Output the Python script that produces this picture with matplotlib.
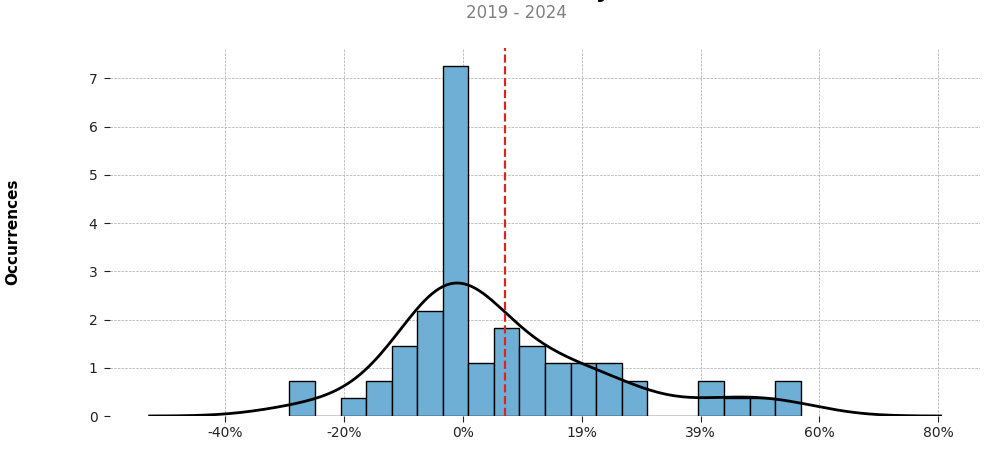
import numpy as np
import matplotlib
matplotlib.use("Agg")
import matplotlib.pyplot as plt
from matplotlib.ticker import FixedLocator, FixedFormatter

# ---- data ----
bin_start = -29.15          # % (left edge of first bin)
bin_width = 4.30            # %
counts = [2, 0, 1, 2, 4, 6, 20, 3, 5, 4, 3, 3, 3, 2, 0, 0, 2, 1, 1, 2]
mean_return = 7.08          # %
xtick_values = [-40, -20, 0, 20, 40, 60, 80]
xtick_labels = ["-40%", "-20%", "0%", "19%", "39%", "60%", "80%"]
ytick_values = [0, 1, 2, 3, 4, 5, 6, 7]
title = "Distribution of Monthly Returns"
subtitle = "2019 - 2024"
ylabel = "Occurrences"

counts = np.array(counts, dtype=float)
edges = bin_start + bin_width * np.arange(len(counts) + 1)
centers = (edges[:-1] + edges[1:]) / 2
n = counts.sum()
# density with x measured in fractions (as in the source chart)
heights = counts / (n * bin_width / 100.0)

# Gaussian KDE (Scott's rule) on the binned data
mu = np.sum(counts * centers) / n
sd = np.sqrt(np.sum(counts * (centers - mu) ** 2) / (n - 1))
bw = sd * n ** (-1 / 5)
grid = np.linspace(edges[0] - 3 * bw, edges[-1] + 3 * bw, 200)
kde = np.zeros_like(grid)
for c, w in zip(centers, counts):
    kde += w * np.exp(-0.5 * ((grid - c) / bw) ** 2)
kde /= (n * bw * np.sqrt(2 * np.pi))
kde *= 100.0  # per-fraction density

fig = plt.figure(figsize=(9.94, 4.55), dpi=100)
ax = fig.add_axes([0.1107, 0.0857, 0.8753, 0.8088])

ax.bar(edges[:-1], heights, width=bin_width, align="edge",
       color="#6fafd5", edgecolor="black", linewidth=1.0, zorder=2)
ax.plot(grid, kde, color="black", linewidth=2.0, zorder=3)
ax.axvline(mean_return, color="#d62728", linestyle="--", linewidth=1.6, zorder=4)

ax.set_ylim(0, heights.max() * 1.05)
ax.margins(x=0.05)

ax.xaxis.set_major_locator(FixedLocator(xtick_values))
ax.xaxis.set_major_formatter(FixedFormatter(xtick_labels))
ax.set_yticks(ytick_values)
ax.tick_params(axis="both", labelsize=10, colors="#222222", length=4)
ax.tick_params(axis="y", pad=5)

for s in ax.spines.values():
    s.set_visible(False)
ax.grid(True, linestyle="--", linewidth=0.5, color="#aaaaaa", zorder=0)
ax.set_axisbelow(True)

ax.set_ylabel(ylabel, fontsize=11, fontweight="bold")
ax.yaxis.set_label_coords(-0.1035, 0.5)

fig.text(0.52, 1 + 2 / 455, title, ha="center", va="baseline",
         fontsize=16, fontweight="bold", color="black")
fig.text(0.5195, 1 - 18 / 455, subtitle, ha="center", va="baseline",
         fontsize=12, color="#808080")

fig.savefig("out.png", dpi=100)
